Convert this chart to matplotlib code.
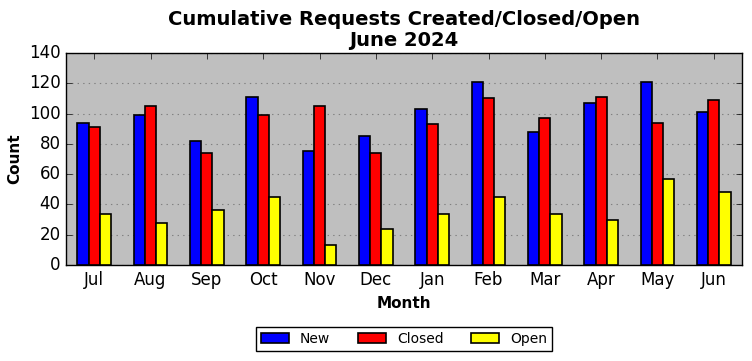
import matplotlib
matplotlib.use("Agg")
import matplotlib.pyplot as plt
import numpy as np

months = ["Jul", "Aug", "Sep", "Oct", "Nov", "Dec", "Jan", "Feb", "Mar", "Apr", "May", "Jun"]
new_vals = [94, 99, 82, 111, 75, 85, 103, 121, 88, 107, 121, 101]
closed_vals = [91, 105, 74, 99, 105, 74, 93, 110, 97, 111, 94, 109]
open_vals = [34, 28, 36, 45, 13, 24, 34, 45, 34, 30, 57, 48]

plt.style.use("classic")
fig = plt.figure(figsize=(7.52, 3.61), dpi=100)
fig.patch.set_facecolor("white")
ax = fig.add_axes([66/752, 1-265/361, (742-66)/752, (265-53)/361])
ax.set_facecolor("#bfbfbf")

x = np.arange(len(months))
w = 0.2
ax.bar(x - w, new_vals, w, color="blue", edgecolor="black", linewidth=1.2, label="New", zorder=3)
ax.bar(x, closed_vals, w, color="red", edgecolor="black", linewidth=1.2, label="Closed", zorder=3)
ax.bar(x + w, open_vals, w, color="yellow", edgecolor="black", linewidth=1.2, label="Open", zorder=3)

ax.set_xlim(-0.5, 11.5)
ax.set_ylim(0, 140)
ax.set_yticks(range(0, 141, 20))
ax.set_xticks(x)
ax.set_xticklabels(months)
ax.tick_params(labelsize=12)
ax.yaxis.grid(True, linestyle=":", color="#808080", linewidth=0.8, zorder=0)
ax.xaxis.grid(False)
ax.set_axisbelow(True)

ax.set_title("Cumulative Requests Created/Closed/Open\nJune 2024", fontsize=14, fontweight="bold", linespacing=1.15)
ax.set_xlabel("Month", fontsize=11, fontweight="bold")
ax.set_ylabel("Count", fontsize=11, fontweight="bold")

leg = ax.legend(loc="upper center", bbox_to_anchor=(0.5, -0.26), ncol=3, fontsize=10,
                frameon=True, fancybox=False, handlelength=2.0, columnspacing=2.0,
                borderpad=0.35)
leg.get_frame().set_edgecolor("black")

fig.savefig("out.png", dpi=100, facecolor="white")
